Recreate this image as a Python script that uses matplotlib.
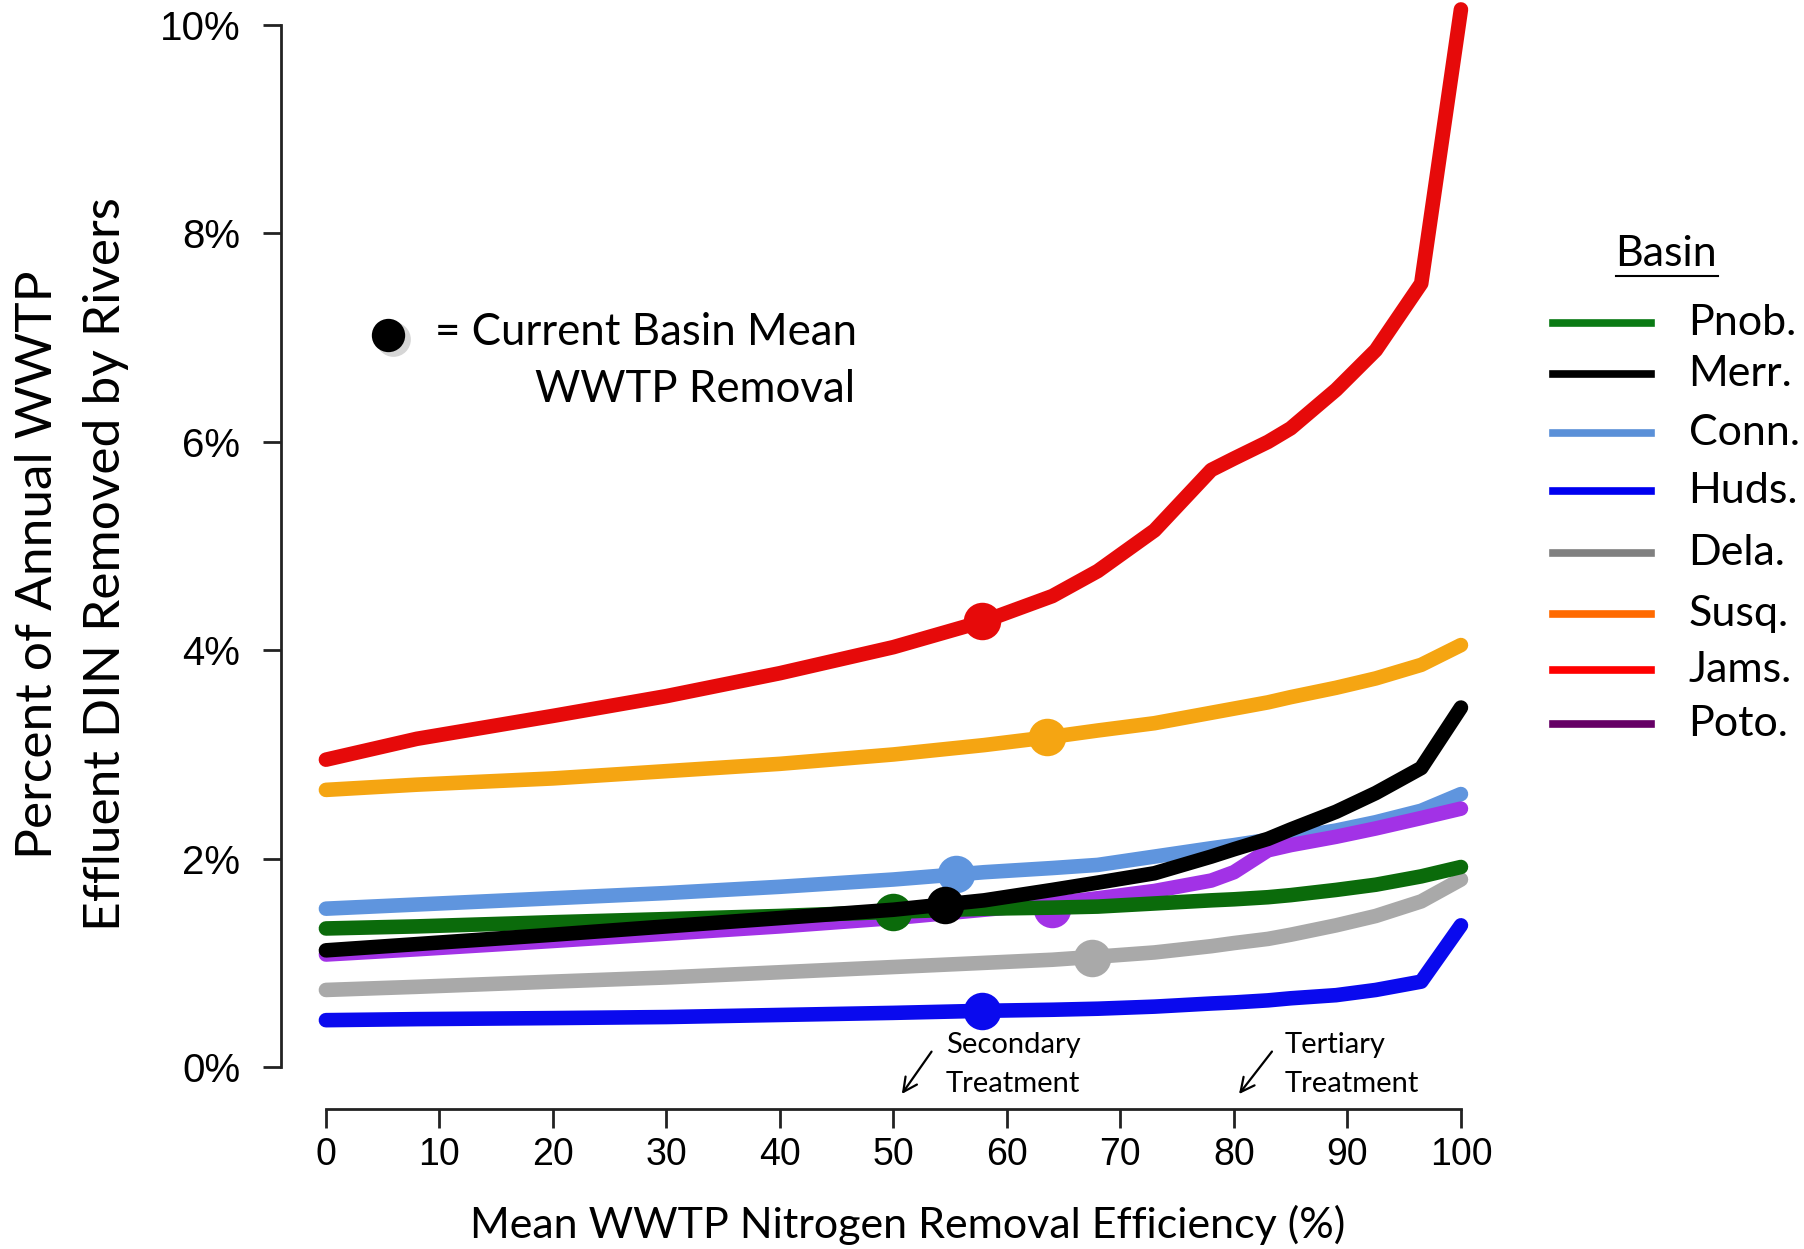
import matplotlib
matplotlib.use("Agg")
import matplotlib.pyplot as plt
from matplotlib.lines import Line2D

# removal efficiency grid (%)
efficiency = [0, 8, 20, 30, 40, 50, 58, 64, 68, 73, 78, 80, 83, 85, 89, 92.5, 96.5, 100]

basins = ["Pnob.", "Merr.", "Conn.", "Huds.", "Dela.", "Susq.", "Jams.", "Poto."]

pnob = [1.33, 1.35, 1.39, 1.42, 1.45, 1.49, 1.52, 1.53, 1.54, 1.57, 1.60, 1.61, 1.63, 1.65, 1.70, 1.75, 1.83, 1.92]
merr = [1.12, 1.18, 1.27, 1.35, 1.43, 1.51, 1.60, 1.70, 1.77, 1.86, 2.02, 2.09, 2.19, 2.28, 2.45, 2.63, 2.87, 3.45]
conn = [1.52, 1.56, 1.62, 1.67, 1.73, 1.80, 1.87, 1.91, 1.94, 2.02, 2.10, 2.13, 2.18, 2.20, 2.27, 2.35, 2.46, 2.62]
huds = [0.45, 0.46, 0.47, 0.48, 0.50, 0.52, 0.54, 0.55, 0.56, 0.58, 0.61, 0.62, 0.64, 0.66, 0.69, 0.74, 0.82, 1.36]
dela = [0.74, 0.77, 0.82, 0.86, 0.91, 0.96, 1.00, 1.03, 1.06, 1.10, 1.16, 1.19, 1.23, 1.27, 1.36, 1.45, 1.59, 1.80]
susq = [2.66, 2.71, 2.77, 2.84, 2.91, 3.00, 3.09, 3.17, 3.23, 3.30, 3.40, 3.44, 3.50, 3.55, 3.64, 3.73, 3.86, 4.05]
jams = [2.95, 3.15, 3.37, 3.56, 3.78, 4.03, 4.28, 4.52, 4.76, 5.15, 5.73, 5.84, 6.00, 6.13, 6.50, 6.88, 7.52, 10.15]
poto = [1.08, 1.13, 1.21, 1.28, 1.35, 1.43, 1.51, 1.57, 1.62, 1.69, 1.79, 1.87, 2.08, 2.13, 2.21, 2.29, 2.39, 2.48]

# current basin mean WWTP removal (dots)
current_eff = [50, 54.5, 55.5, 57.8, 67.5, 63.5, 57.8, 64]
current_pct = [1.49, 1.56, 1.85, 0.54, 1.05, 3.17, 4.28, 1.52]

line_colors = ["#0b6b0b", "#000000", "#5f95de", "#0a0aee", "#a9a9a9", "#f5a512", "#e60a0a", "#a232e6"]
legend_colors = ["#0a7a14", "#000000", "#5a90d8", "#0000f0", "#808080", "#ff6a00", "#ff0000", "#660066"]

series = [pnob, merr, conn, huds, dela, susq, jams, poto]
# bottom to top: dela, huds, conn, poto, pnob, merr, susq, jams
draw_order = [4, 3, 2, 7, 0, 1, 5, 6]

fig = plt.figure(figsize=(18.04, 12.49), dpi=100)
ax = fig.add_axes([0.1555, 0.1123, 0.6795, 0.901])
ax.set_xlim(-4, 104)
ax.set_ylim(-0.4, 10.4)

for k, i in enumerate(draw_order):
    ax.plot(efficiency, series[i], color=line_colors[i], lw=10.5,
            solid_capstyle="round", solid_joinstyle="round", zorder=2 + k * 0.1)
    ax.plot(current_eff[i], current_pct[i], "o", color=line_colors[i],
            ms=27, mec="none", zorder=2 + k * 0.1 + 0.05)

for s in ["top", "right"]:
    ax.spines[s].set_visible(False)
ax.spines["left"].set_bounds(0, 10)
ax.spines["bottom"].set_bounds(0, 100)
for s in ["left", "bottom"]:
    ax.spines[s].set_linewidth(2)
    ax.spines[s].set_color("#222222")

ax.set_yticks([0, 2, 4, 6, 8, 10])
ax.set_yticklabels(["0%", "2%", "4%", "6%", "8%", "10%"])
ax.set_xticks(range(0, 101, 10))
ax.tick_params(axis="y", length=13, width=2, pad=16, labelsize=29, color="#222222")
ax.tick_params(axis="x", length=14, width=2, pad=6, labelsize=27, color="#222222")
for lab in ax.get_xticklabels() + ax.get_yticklabels():
    lab.set_family("Liberation Sans")

txt_font = "Lato"

# key for the dots
ax.plot(5.9, 6.99, "o", color="#bbbbbb", ms=25, mec="none", alpha=0.6, clip_on=False)
ax.plot(5.5, 7.03, "o", color="black", ms=24, mec="none", clip_on=False)
ax.text(9.6, 7.05, "= Current Basin Mean", fontsize=31.5, family=txt_font, va="center", ha="left")
ax.text(46.6, 6.50, "WWTP Removal", fontsize=31.5, family=txt_font, va="center", ha="right")

# treatment markers
ax.text(54.6, 0.21, "Secondary", fontsize=21, family=txt_font, va="center", ha="left")
ax.text(54.6, -0.16, "Treatment", fontsize=21, family=txt_font, va="center", ha="left")
ax.annotate("", xy=(50.6, -0.28), xytext=(53.5, 0.17),
            arrowprops=dict(arrowstyle="->", lw=1.6, color="black", mutation_scale=25))
ax.text(84.5, 0.21, "Tertiary", fontsize=21, family=txt_font, va="center", ha="left")
ax.text(84.5, -0.16, "Treatment", fontsize=21, family=txt_font, va="center", ha="left")
ax.annotate("", xy=(80.3, -0.28), xytext=(83.5, 0.17),
            arrowprops=dict(arrowstyle="->", lw=1.6, color="black", mutation_scale=25))

# axis labels
fig.text(0.021, 0.548, "Percent of Annual WWTP", rotation=90, fontsize=37,
         family=txt_font, ha="center", va="center")
fig.text(0.059, 0.548, "Effluent DIN Removed by Rivers", rotation=90, fontsize=37,
         family=txt_font, ha="center", va="center")
fig.text(0.503, 0.019, "Mean WWTP Nitrogen Removal Efficiency (%)", fontsize=31,
         family=txt_font, ha="center", va="center")

# manual legend
fig.text(0.9235, 1 - 254 / 1249, "Basin", fontsize=31, family=txt_font, ha="center", va="center")
fig.add_artist(Line2D([1616 / 1804, 1718 / 1804], [1 - 276 / 1249] * 2, color="black", lw=1.5))
row_y = [323, 374, 433, 491, 553, 614, 670, 724]
for name, col, yy in zip(basins, legend_colors, row_y):
    yf = 1 - yy / 1249
    fig.add_artist(Line2D([0.861, 0.915], [yf, yf], color=col, lw=5.5))
    fig.text(0.936, yf, name, fontsize=31, family=txt_font, ha="left", va="center")

fig.savefig("out.png", dpi=100)
